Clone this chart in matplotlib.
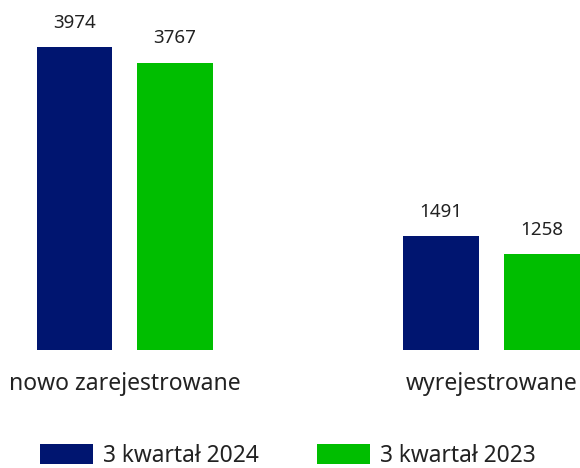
import numpy as np
import matplotlib
matplotlib.use('Agg')
import matplotlib.pyplot as plt

categories = ['nowo zarejestrowane', 'wyrejestrowane']
series_names = ['3 kwartał 2024', '3 kwartał 2023']
values_2024 = [3974, 1491]
values_2023 = [3767, 1258]
colors = ['#001570', '#00BE00']

plt.rcParams['font.family'] = ['Noto Sans', 'DejaVu Sans']
text_color = '#222222'

fig = plt.figure(figsize=(5.8, 4.68), dpi=100)
ax = fig.add_axes([0, 1 - 350 / 468, 1, 350 / 468])

x = np.arange(len(categories))
width = 0.207
offset = 0.137
for vals, dx, col, name in [(values_2024, -offset, colors[0], series_names[0]),
                            (values_2023, offset, colors[1], series_names[1])]:
    bars = ax.bar(x + dx, vals, width, color=col, label=name)
    for b, v in zip(bars, vals):
        ax.annotate(str(v), (b.get_x() + b.get_width() / 2, v), xytext=(0, 11),
                    textcoords='offset points', ha='center', va='bottom',
                    fontsize=13.5, color=text_color)

ax.set_xlim(-0.340, 1.241)
ax.set_ylim(0, 4590)
ax.set_xticks(x)
ax.set_xticklabels(categories, fontsize=16.5, color=text_color)
ax.tick_params(axis='x', length=0, pad=16)
ax.set_yticks([])
for s in ax.spines.values():
    s.set_visible(False)

fig.legend(loc='lower left', bbox_to_anchor=(40 / 580, 0), ncol=2, frameon=False,
           fontsize=16.4, handlelength=2.33, handleheight=0.97, handletextpad=0.44,
           columnspacing=2.55, borderpad=0, borderaxespad=0, labelcolor=text_color)

fig.savefig('out.png', dpi=100)
